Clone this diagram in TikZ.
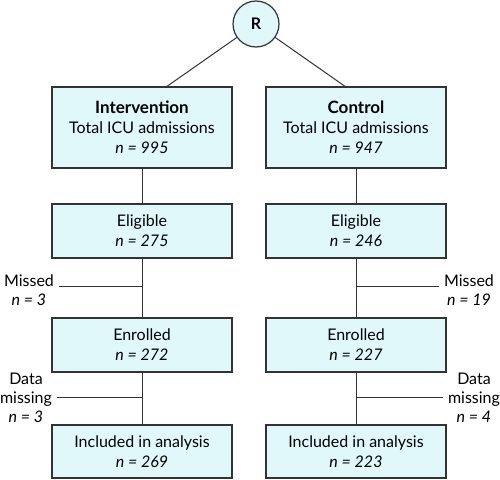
\documentclass[tikz,border=0pt]{standalone}
\usepackage{fontspec}
\setmainfont{Lato}
\definecolor{boxfill}{HTML}{E0F8FA}
\definecolor{edge}{HTML}{333333}
\begin{document}
\begin{tikzpicture}[x=1pt,y=-1pt,
  box/.style={draw=edge,line width=1.3pt,fill=boxfill,minimum width=180pt,inner sep=0pt,align=center,font=\fontsize{16}{20}\selectfont},
  side/.style={align=center,inner sep=1pt,font=\fontsize{16}{19}\selectfont},
  conn/.style={draw=edge,line width=1pt}]
\useasboundingbox (0,0) rectangle (500,479);
\node[circle,draw=edge,line width=1.2pt,fill=boxfill,minimum size=46pt,inner sep=0pt,font=\fontsize{16}{18}\selectfont\bfseries] (R) at (256,24) {R};
\node[box,minimum height=81pt] (int) at (142,127.5) {{\fontsize{17}{20}\selectfont\textbf{Intervention}}\\Total ICU admissions\\\textit{n = 995}};
\node[box,minimum height=81pt] (con) at (356,127.5) {{\fontsize{17}{20}\selectfont\textbf{Control}}\\Total ICU admissions\\\textit{n = 947}};
\node[box,minimum height=54pt] (el1) at (142,231) {Eligible\\\textit{n = 275}};
\node[box,minimum height=54pt] (el2) at (356,231) {Eligible\\\textit{n = 246}};
\node[box,minimum height=54pt] (en1) at (142,345) {Enrolled\\\textit{n = 272}};
\node[box,minimum height=54pt] (en2) at (356,345) {Enrolled\\\textit{n = 227}};
\node[box,minimum height=53pt] (in1) at (142,451.5) {Included in analysis\\\textit{n = 269}};
\node[box,minimum height=53pt] (in2) at (356,451.5) {Included in analysis\\\textit{n = 223}};
\node[side] (ms1) at (29,290) {Missed\\\textit{n = 3}};
\node[side] (ms2) at (469,290) {Missed\\\textit{n = 19}};
\node[side] (dm1) at (26,398) {Data\\missing\\\textit{n = 3}};
\node[side] (dm2) at (474,398) {Data\\missing\\\textit{n = 4}};
\coordinate (m1) at (142,286);
\coordinate (m2) at (356,286);
\coordinate (d1) at (142,397);
\coordinate (d2) at (356,397);
\draw[conn] (R) -- ([xshift=25pt]int.north);
\draw[conn] (R) -- ([xshift=-11pt]con.north);
\draw[conn] (int) -- (el1);
\draw[conn] (con) -- (el2);
\draw[conn] (el1) -- (en1);
\draw[conn] (el2) -- (en2);
\draw[conn] (en1) -- (in1);
\draw[conn] (en2) -- (in2);
\draw[conn,shorten >=4pt] (m1) -- (ms1.east |- m1);
\draw[conn,shorten >=4pt] (m2) -- (ms2.west |- m2);
\draw[conn,shorten >=4pt] (d1) -- (dm1.east |- d1);
\draw[conn,shorten >=4pt] (d2) -- (dm2.west |- d2);
\end{tikzpicture}
\end{document}
